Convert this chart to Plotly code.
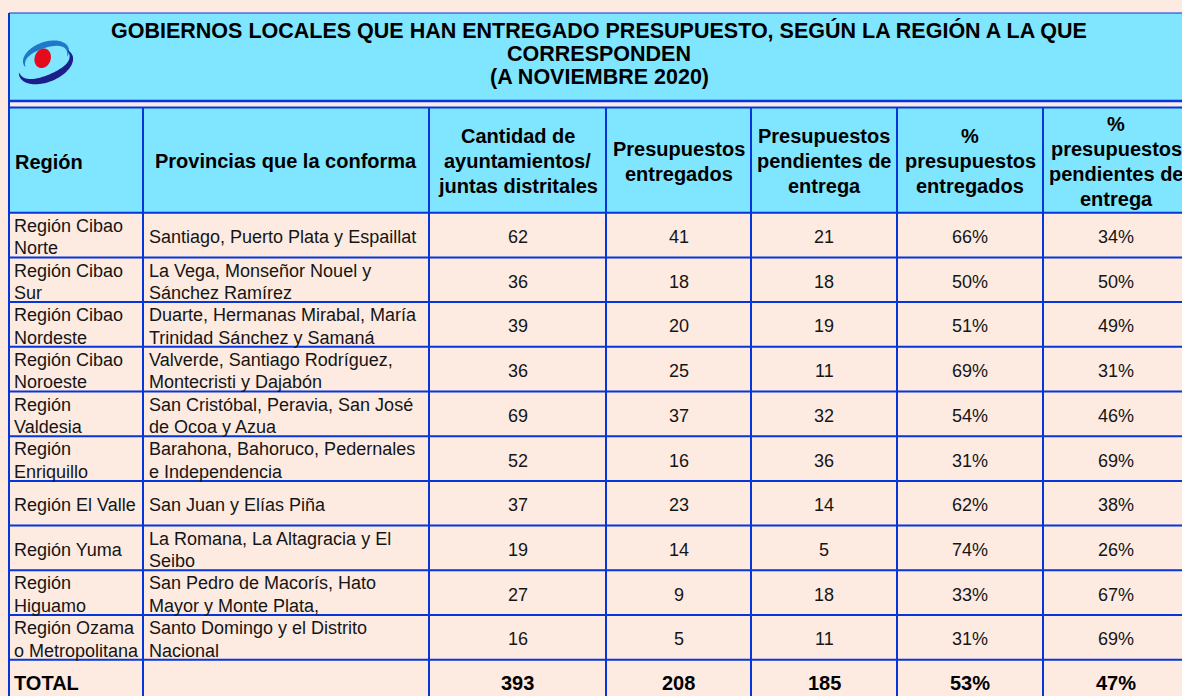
import numpy as np
import plotly.graph_objects as go

# ---------------- data ----------------
title_lines = [
    "GOBIERNOS LOCALES QUE HAN ENTREGADO PRESUPUESTO, SEGÚN LA REGIÓN A LA QUE",
    "CORRESPONDEN",
    "(A NOVIEMBRE 2020)",
]
headers = [
    "Región",
    "Provincias que la conforma",
    "Cantidad de\nayuntamientos/\njuntas distritales",
    "Presupuestos\nentregados",
    "Presupuestos\npendientes de\nentrega",
    "%\npresupuestos\nentregados",
    "%\npresupuestos\npendientes de\nentrega",
]
regions = [
    "Región Cibao\nNorte",
    "Región Cibao\nSur",
    "Región Cibao\nNordeste",
    "Región Cibao\nNoroeste",
    "Región\nValdesia",
    "Región\nEnriquillo",
    "Región El Valle",
    "Región Yuma",
    "Región\nHiguamo",
    "Región Ozama\no Metropolitana",
]
provinces = [
    "Santiago, Puerto Plata y Espaillat",
    "La Vega, Monseñor Nouel y\nSánchez Ramírez",
    "Duarte, Hermanas Mirabal, María\nTrinidad Sánchez y Samaná",
    "Valverde, Santiago Rodríguez,\nMontecristi y Dajabón",
    "San Cristóbal, Peravia, San José\nde Ocoa y Azua",
    "Barahona, Bahoruco, Pedernales\ne Independencia",
    "San Juan y Elías Piña",
    "La Romana, La Altagracia y El\nSeibo",
    "San Pedro de Macorís, Hato\nMayor y Monte Plata,",
    "Santo Domingo y el Distrito\nNacional",
]
ayuntamientos = [62, 36, 39, 36, 69, 52, 37, 19, 27, 16]
entregados = [41, 18, 20, 25, 37, 16, 23, 14, 9, 5]
pendientes = [21, 18, 19, 11, 32, 36, 14, 5, 18, 11]
pct_entregados = [66, 50, 51, 69, 54, 31, 62, 74, 33, 31]
pct_pendientes = [34, 50, 49, 31, 46, 69, 38, 26, 67, 69]
total_label = "TOTAL"
total_values = ["393", "208", "185", "53%", "47%"]

# ---------------- layout / style ----------------
W, H = 1182, 696
BG = "#FDEBE2"
CYAN = "#80E5FE"
BLUE = "#0536DC"
FONT = "Liberation Sans, Arial, sans-serif"

col_edges = [9, 143, 429, 606, 751, 897, 1043, 1189]
title_top, title_bot = 13, 101
head_top, head_bot = 107.5, 212.7
row_h = 44.7
n_rows = len(regions) + 1
row_edges = [head_bot + i * row_h for i in range(n_rows + 1)]

shapes = []
annotations = []


def add_text(lines_text, x, yc, spacing, size, bold=False, align="center", xanchor="center", color="#151515"):
    lines = lines_text.split("\n")
    n = len(lines)
    for i, ln in enumerate(lines):
        y = yc + (i - (n - 1) / 2) * spacing
        annotations.append(dict(
            x=x, y=y, xref="x", yref="y", text=("<b>%s</b>" % ln) if bold else ln,
            showarrow=False, xanchor=xanchor, yanchor="middle", align=align,
            font=dict(family=FONT, size=size, color=color)))


# title band
shapes.append(dict(type="rect", x0=col_edges[0], x1=col_edges[-1], y0=title_top, y1=title_bot,
                   fillcolor=CYAN, line=dict(color=BLUE, width=1), layer="below"))
shapes.append(dict(type="line", x0=col_edges[0], x1=col_edges[-1], y0=title_bot, y1=title_bot,
                   line=dict(color=BLUE, width=2.5)))
for i, t in enumerate(title_lines):
    add_text(t, 599, 30 + i * 23.5, 0, 21.5, bold=True, color="#000")

# header band
shapes.append(dict(type="rect", x0=col_edges[0], x1=col_edges[-1], y0=head_top, y1=head_bot,
                   fillcolor=CYAN, line=dict(width=0), layer="below"))
head_c = (head_top + head_bot) / 2
for j, h in enumerate(headers):
    if j == 0:
        add_text(h, col_edges[0] + 4, head_c + 2, 25, 20, bold=True, xanchor="left", color="#000")
    else:
        add_text(h, (col_edges[j] + col_edges[j + 1]) / 2, head_c + 1, 25, 20, bold=True, color="#000")

# data rows
for i in range(len(regions)):
    yc = (row_edges[i] + row_edges[i + 1]) / 2 + 2
    add_text(regions[i], col_edges[0] + 3, yc, 22.5, 18, xanchor="left", align="left")
    add_text(provinces[i], col_edges[1] + 4, yc, 22.5, 18, xanchor="left", align="left")
    vals = [str(ayuntamientos[i]), str(entregados[i]), str(pendientes[i]),
            "%d%%" % pct_entregados[i], "%d%%" % pct_pendientes[i]]
    for k, v in enumerate(vals):
        add_text(v, (col_edges[k + 2] + col_edges[k + 3]) / 2, yc, 22.5, 18)

# total row
i = len(regions)
yc = (row_edges[i] + row_edges[i + 1]) / 2 + 1
add_text(total_label, col_edges[0] + 3, yc, 0, 20, bold=True, xanchor="left", color="#000")
for k, v in enumerate(total_values):
    add_text(v, (col_edges[k + 2] + col_edges[k + 3]) / 2, yc, 0, 20, bold=True, color="#000")

# grid lines
shapes.append(dict(type="line", x0=col_edges[0], x1=col_edges[-1], y0=head_top, y1=head_top,
                   line=dict(color=BLUE, width=2)))
for y in row_edges:
    shapes.append(dict(type="line", x0=col_edges[0], x1=col_edges[-1], y0=y, y1=y,
                       line=dict(color=BLUE, width=2)))
shapes.append(dict(type="line", x0=col_edges[0], x1=col_edges[0], y0=title_top, y1=row_edges[-1],
                   line=dict(color=BLUE, width=2)))
for x in col_edges[1:]:
    shapes.append(dict(type="line", x0=x, x1=x, y0=head_top, y1=row_edges[-1],
                       line=dict(color=BLUE, width=2)))


# ---------------- logo (decoration) ----------------
def ellipse_pts(cx, cy, a, b, rot, phis):
    r = np.deg2rad(rot)
    x = cx + a * np.cos(phis) * np.cos(r) - b * np.sin(phis) * np.sin(r)
    y = cy + a * np.cos(phis) * np.sin(r) + b * np.sin(phis) * np.cos(r)
    return x, y


def crescent(cx, cy, a, b, rot, p0, p1, tmax):
    phis = np.deg2rad(np.linspace(p0, p1, 60))
    ox, oy = ellipse_pts(cx, cy, a, b, rot, phis)
    t = tmax * np.sin(np.linspace(0, np.pi, 60)) ** 0.8
    ix, iy = ellipse_pts(cx, cy, a - t, b - t, rot, phis)
    xs = list(ox) + list(ix[::-1])
    ys = list(oy) + list(iy[::-1])
    return "M " + " L ".join("%.2f,%.2f" % (x, y) for x, y in zip(xs, ys)) + " Z"


def ell_path(cx, cy, a, b, rot):
    phis = np.deg2rad(np.linspace(0, 360, 60))
    x, y = ellipse_pts(cx, cy, a, b, rot, phis)
    return "M " + " L ".join("%.2f,%.2f" % (u, v) for u, v in zip(x, y)) + " Z"


shapes.append(dict(type="path", path=crescent(46, 56, 24, 14, -20, 165, 395, 6),
                   fillcolor="#1F78C8", line=dict(width=0)))
shapes.append(dict(type="path", path=crescent(46, 66, 28.5, 16, -22, -25, 195, 7),
                   fillcolor="#1C1F8A", line=dict(width=0)))
shapes.append(dict(type="path", path=ell_path(42.7, 58.3, 8, 10, 20),
                   fillcolor="#E30B1C", line=dict(width=0)))

fig = go.Figure()
fig.update_layout(
    width=W, height=H, margin=dict(l=0, r=0, t=0, b=0),
    paper_bgcolor=BG, plot_bgcolor=BG,
    xaxis=dict(range=[0, W], visible=False, fixedrange=True),
    yaxis=dict(range=[H, 0], visible=False, fixedrange=True),
    shapes=shapes, annotations=annotations, showlegend=False,
)
fig.write_html(
    "out.html",
    config={"displayModeBar": False},
    post_script="document.body.style.margin='0';document.body.style.overflow='hidden';",
)
